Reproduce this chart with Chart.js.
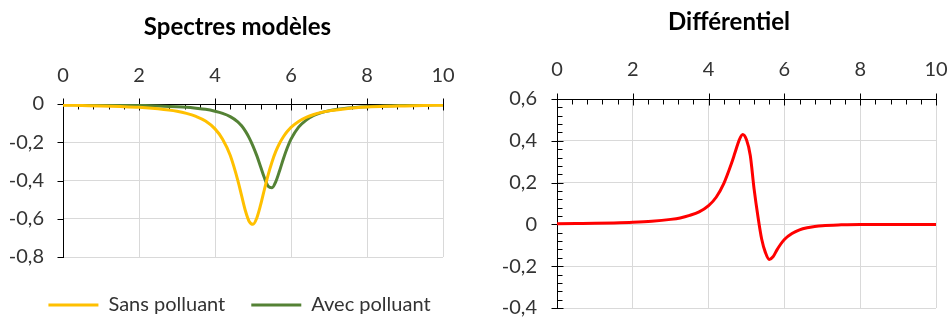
<!DOCTYPE html>
<html lang="fr">
<head>
  <meta charset="UTF-8" />
  <title>Spectres modèles / Différentiel</title>
  <script src="https://cdn.jsdelivr.net/npm/chart.js"></script>
  <style>
    body { margin: 0; background: #fff; }
    .box { position: absolute; top: 0; width: 476px; height: 320px; }
  </style>
</head>
<body>
  <div class="box" style="left:0"><canvas id="spectres" width="476" height="320"></canvas></div>
  <div class="box" style="left:476px"><canvas id="differentiel" width="476" height="320"></canvas></div>

  <script>
    // valeurs
    const xValues = [0, 0.5, 1, 1.5, 2, 2.5, 3, 3.25, 3.5, 3.75,
      4, 4.2, 4.4, 4.6, 4.7, 4.8, 4.9, 5, 5.1, 5.2, 5.3, 5.4, 5.5, 5.6, 5.7, 5.8, 5.9, 6,
      6.2, 6.4, 6.6, 6.8, 7, 7.5, 8, 8.5, 9, 9.5, 10];
    const sansPolluant = [-0.006, -0.008, -0.010, -0.013, -0.017, -0.025, -0.038, -0.049, -0.065, -0.089,
      -0.130, -0.184, -0.268, -0.399, -0.479, -0.558, -0.614, -0.629, -0.596, -0.528, -0.447, -0.369, -0.303, -0.248, -0.205, -0.171, -0.144, -0.122,
      -0.091, -0.070, -0.055, -0.044, -0.036, -0.023, -0.016, -0.012, -0.010, -0.008, -0.006];
    const avecPolluant = [-0.003, -0.004, -0.004, -0.006, -0.007, -0.010, -0.014, -0.017, -0.022, -0.028,
      -0.038, -0.049, -0.066, -0.093, -0.114, -0.142, -0.177, -0.220, -0.270, -0.328, -0.386, -0.430, -0.438, -0.406, -0.349, -0.286, -0.230, -0.184,
      -0.121, -0.084, -0.060, -0.045, -0.035, -0.021, -0.014, -0.010, -0.007, -0.005, -0.004];
    const differentiel = [0.003, 0.004, 0.005, 0.007, 0.010, 0.015, 0.024, 0.031, 0.043, 0.060,
      0.090, 0.130, 0.195, 0.290, 0.345, 0.400, 0.430, 0.405, 0.330, 0.170, 0.040, -0.070, -0.135, -0.168, -0.155, -0.123, -0.095, -0.072,
      -0.044, -0.026, -0.016, -0.010, -0.006, -0.002, 0, 0, 0, 0, 0];

    Chart.defaults.font.family = "Lato, 'Open Sans', sans-serif";
    Chart.defaults.color = '#333';

    function points(ys) {
      return xValues.map((x, i) => ({ x: x, y: ys[i] }));
    }

    function virgule(v) {
      if (Math.abs(v) < 1e-9) return '0';
      return v.toFixed(1).replace('.', ',');
    }

    // petites graduations façon Excel
    const tickMarks = {
      id: 'tickMarks',
      beforeDatasetsDraw(chart, args, opts) {
        const ctx = chart.ctx;
        const area = chart.chartArea;
        const xs = chart.scales.x, ys = chart.scales.y;
        ctx.save();
        ctx.strokeStyle = '#000';
        ctx.lineWidth = 1;
        ctx.beginPath();
        const ay = Math.round(area.top) + 0.5;
        for (let i = 0; i <= 25; i++) {
          const px = Math.round(xs.getPixelForValue(i * 0.4)) + 0.5;
          if (i % 5 === 0) { ctx.moveTo(px, ay - 6); ctx.lineTo(px, ay + 6); }
          else { ctx.moveTo(px, ay); ctx.lineTo(px, ay + 5); }
        }
        const ax = Math.round(area.left) + 0.5;
        const n = Math.round((ys.max - ys.min) / 0.2) * opts.ySub;
        for (let i = 0; i <= n; i++) {
          const py = Math.round(ys.getPixelForValue(ys.min + i * 0.2 / opts.ySub)) + 0.5;
          if (i % opts.ySub === 0) { ctx.moveTo(ax - 6, py); ctx.lineTo(opts.yCross ? ax + 6 : ax, py); }
          else { ctx.moveTo(ax, py); ctx.lineTo(ax + 5, py); }
        }
        ctx.stroke();
        ctx.restore();
      }
    };

    // décale titre et légende comme dans Excel
    const decalage = {
      id: 'decalage',
      afterLayout(chart, args, opts) {
        const t = chart.titleBlock, l = chart.legend;
        if (t) { t.left += opts.titleDx; t.right += opts.titleDx; }
        if (l && opts.legendDx !== undefined) {
          l.left += opts.legendDx; l.right += opts.legendDx;
          l.top += opts.legendDy; l.bottom += opts.legendDy;
        }
      }
    };

    function scales(yMin, yMax, yWidth, xPad, yPad) {
      return {
        x: {
          type: 'linear', position: 'top', min: 0, max: 10,
          ticks: { stepSize: 2, padding: xPad, font: { size: 20 } },
          grid: { color: '#d9d9d9', drawTicks: false },
          border: { color: '#000' },
          afterFit(s) { s.height = 62.2; s.paddingLeft = 0; s.paddingRight = 0; }
        },
        y: {
          min: yMin, max: yMax,
          ticks: { stepSize: 0.2, autoSkip: false, padding: yPad, font: { size: 20 }, callback: virgule },
          grid: { color: '#d9d9d9', drawTicks: false },
          border: { color: '#000' },
          afterFit(s) { s.width = yWidth; s.paddingTop = 0; s.paddingBottom = 0; }
        }
      };
    }

    new Chart(document.getElementById('spectres'), {
      type: 'line',
      data: {
        datasets: [
          { label: 'Sans polluant', data: points(sansPolluant), borderColor: '#ffc000', backgroundColor: '#ffc000', borderWidth: 3 },
          { label: 'Avec polluant', data: points(avecPolluant), borderColor: '#548235', backgroundColor: '#548235', borderWidth: 3 }
        ]
      },
      options: {
        responsive: false, animation: false, devicePixelRatio: 1,
        elements: { point: { radius: 0 }, line: { cubicInterpolationMode: 'monotone' } },
        layout: { padding: { left: 0, right: 33, top: 0, bottom: 7 } },
        scales: scales(-0.8, 0, 63, 16, 19),
        plugins: {
          title: { display: true, text: 'Spectres modèles', color: '#000', font: { size: 24, weight: 'bold' }, padding: { top: 13, bottom: 0 } },
          legend: {
            position: 'bottom',
            labels: { usePointStyle: true, pointStyle: 'line', pointStyleWidth: 50, padding: 26, font: { size: 20 }, color: '#333' }
          },
          tooltip: { enabled: false },
          tickMarks: { ySub: 1, yCross: false },
          decalage: { titleDx: 16, legendDx: 18, legendDy: 12 }
        }
      },
      plugins: [tickMarks, decalage]
    });

    new Chart(document.getElementById('differentiel'), {
      type: 'line',
      data: {
        datasets: [
          { label: 'Différentiel', data: points(differentiel), borderColor: '#ff0000', borderWidth: 3 }
        ]
      },
      options: {
        responsive: false, animation: false, devicePixelRatio: 1,
        elements: { point: { radius: 0 }, line: { cubicInterpolationMode: 'monotone' } },
        layout: { padding: { left: 0, right: 16, top: 0, bottom: 12 } },
        scales: scales(-0.4, 0.6, 81, 17, 20),
        plugins: {
          title: { display: true, text: 'Différentiel', color: '#000', font: { size: 24, weight: 'bold' }, padding: { top: 8, bottom: 0 } },
          legend: { display: false },
          tooltip: { enabled: false },
          tickMarks: { ySub: 5, yCross: true },
          decalage: { titleDx: 23 }
        }
      },
      plugins: [tickMarks, decalage]
    });
  </script>
</body>
</html>
